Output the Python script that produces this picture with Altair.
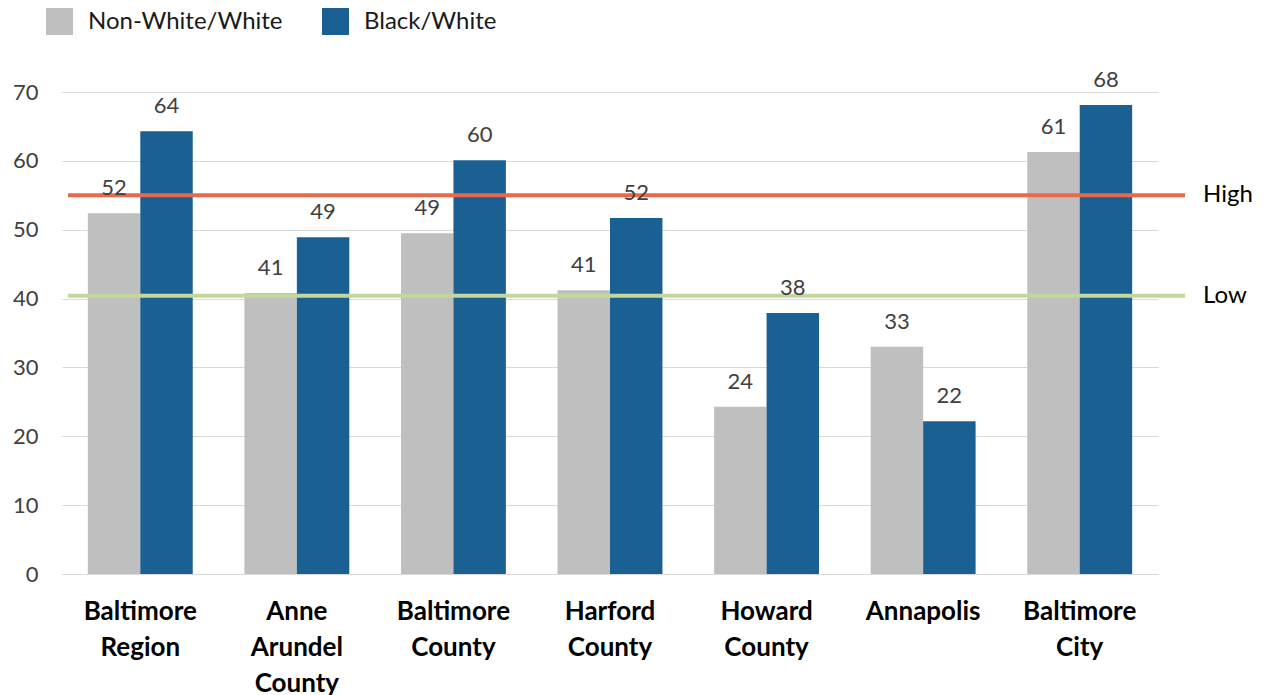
import altair as alt
import pandas as pd

categories = ["Baltimore Region", "Anne Arundel County", "Baltimore County",
              "Harford County", "Howard County", "Annapolis", "Baltimore City"]
series_names = ["Non-White/White", "Black/White"]
nonwhite_vals = [52.4, 40.8, 49.5, 41.2, 24.3, 33.0, 61.3]
black_vals = [64.3, 48.9, 60.1, 51.7, 37.9, 22.2, 68.1]
nonwhite_labels = ["52", "41", "49", "41", "24", "33", "61"]
black_labels = ["64", "49", "60", "52", "38", "22", "68"]
ref_names = ["High", "Low"]
ref_values = [55.0, 40.4]
ref_colors = ["#E8694E", "#C4D79B"]
y_ticks = [0, 10, 20, 30, 40, 50, 60, 70]

rows = []
for i, c in enumerate(categories):
    rows.append({"cat": c, "series": series_names[0], "value": nonwhite_vals[i], "label": nonwhite_labels[i]})
    rows.append({"cat": c, "series": series_names[1], "value": black_vals[i], "label": black_labels[i]})
df = pd.DataFrame(rows)
refs = pd.DataFrame({"name": ref_names, "value": ref_values, "color": ref_colors})

FONT = "Lato"
TXT = "#404040"

x_axis = alt.Axis(title=None, labelAngle=0, labelFontSize=26, labelFontWeight="bold",
                  labelColor="#000000", labelFont=FONT,
                  labelExpr="split(datum.label, ' ')", labelLineHeight=36,
                  labelPadding=24, ticks=False, domainColor="#D9D9D9",
                  labelBaseline="top", grid=False)
y_axis = alt.Axis(title=None, values=y_ticks, labelFontSize=22, labelColor=TXT,
                  labelFont=FONT, labelPadding=24, ticks=False, domain=False,
                  gridColor="#D9D9D9", gridWidth=1.2)
x_scale = alt.Scale(paddingInner=0.33, paddingOuter=0.165)
y_scale = alt.Scale(domain=[0, 70], nice=False)

bars = alt.Chart(df).mark_bar().encode(
    x=alt.X("cat:N", sort=categories, scale=x_scale, axis=x_axis),
    xOffset=alt.XOffset("series:N", sort=series_names, scale=alt.Scale(paddingInner=0)),
    y=alt.Y("value:Q", scale=y_scale, axis=y_axis),
    color=alt.Color("series:N", sort=series_names,
                    scale=alt.Scale(domain=series_names, range=["#BFBFBF", "#1B6093"]),
                    legend=alt.Legend(title=None, orient="none", legendX=-16, legendY=-84,
                                      direction="horizontal", symbolType="square",
                                      symbolSize=729, symbolStrokeWidth=0,
                                      labelFontSize=24, labelFont=FONT, labelColor="#1a1a1a",
                                      labelLimit=400, columnPadding=39, labelOffset=15)),
)

texts = alt.Chart(df).mark_text(fontSize=22, font=FONT, color=TXT, baseline="alphabetic", dy=-18).encode(
    x=alt.X("cat:N", sort=categories, scale=x_scale, axis=x_axis),
    xOffset=alt.XOffset("series:N", sort=series_names),
    y=alt.Y("value:Q", scale=y_scale, axis=y_axis),
    text="label:N",
)

rules = alt.Chart(refs).mark_rule(strokeWidth=4).encode(
    y=alt.Y("value:Q", scale=y_scale, axis=y_axis),
    x=alt.value(6),
    x2=alt.value(1123),
    color=alt.Color("color:N", scale=None),
)

ref_text = alt.Chart(refs).mark_text(fontSize=24, font=FONT, color="#000000", align="left",
                                     baseline="middle").encode(
    y=alt.Y("value:Q", scale=y_scale, axis=y_axis),
    x=alt.value(1141),
    text="name:N",
)

chart = alt.layer(bars, rules, texts, ref_text).properties(
    width=1096, height=482,
    autosize=alt.AutoSizeParams(type="none"),
    padding={"left": 62, "top": 92, "right": 108, "bottom": 121},
).configure(background="white").configure_view(stroke="transparent", strokeWidth=0
).configure_axisY(domain=False, ticks=False).configure_axisX(grid=False)

chart.save("out.html", embed_options={"renderer": "svg", "actions": False})
